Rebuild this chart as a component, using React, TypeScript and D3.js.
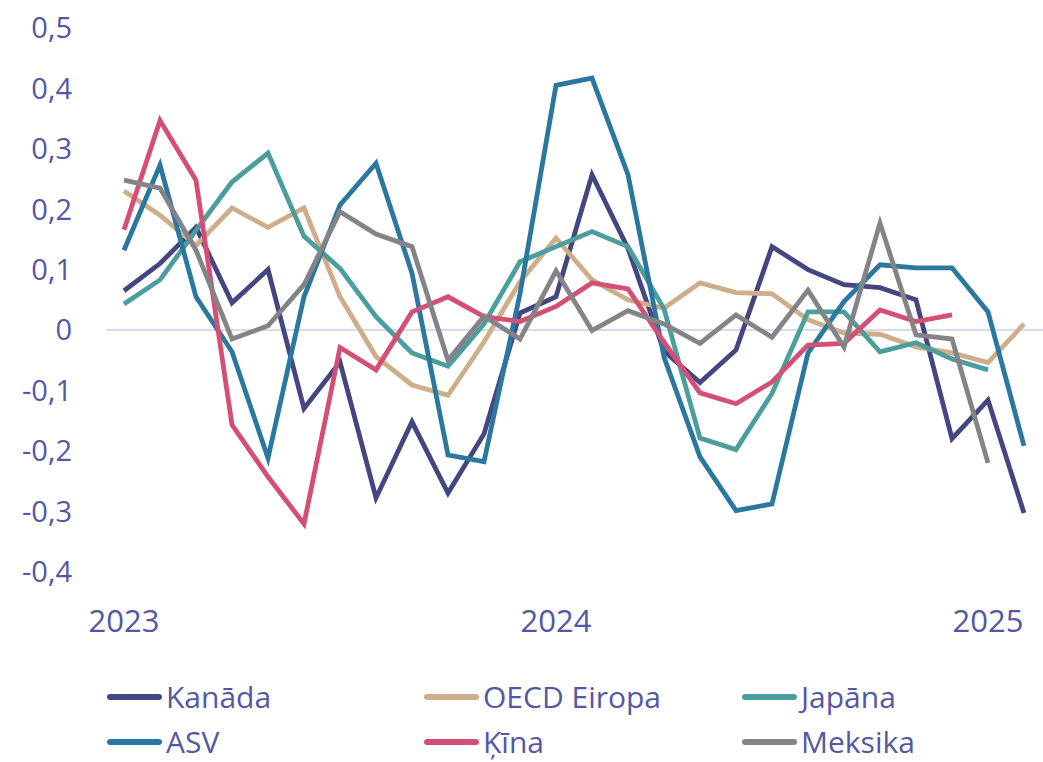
import React from "react";
import * as d3 from "d3";

// monthly points, Jan 2023 .. Feb 2025
const months: string[] = [
  "2023-01", "2023-02", "2023-03", "2023-04", "2023-05", "2023-06",
  "2023-07", "2023-08", "2023-09", "2023-10", "2023-11", "2023-12",
  "2024-01", "2024-02", "2024-03", "2024-04", "2024-05", "2024-06",
  "2024-07", "2024-08", "2024-09", "2024-10", "2024-11", "2024-12",
  "2025-01", "2025-02",
];

const kanada = [0.065, 0.11, 0.17, 0.045, 0.1, -0.13, -0.053, -0.278, -0.152, -0.27, -0.172, 0.028, 0.055, 0.257, 0.135, -0.035, -0.087, -0.033, 0.138, 0.1, 0.075, 0.07, 0.05, -0.18, -0.116, -0.303];
const oecdEiropa = [0.23, 0.19, 0.14, 0.202, 0.17, 0.202, 0.055, -0.044, -0.091, -0.108, -0.02, 0.08, 0.152, 0.083, 0.05, 0.036, 0.078, 0.062, 0.06, 0.017, -0.005, -0.007, -0.028, -0.038, -0.054, 0.01];
const japana = [0.043, 0.083, 0.165, 0.245, 0.293, 0.155, 0.102, 0.022, -0.038, -0.06, 0.01, 0.113, 0.138, 0.163, 0.138, 0.035, -0.179, -0.198, -0.105, 0.03, 0.03, -0.036, -0.021, -0.048, -0.066, null];
const asv = [0.132, 0.273, 0.055, -0.036, -0.212, 0.055, 0.207, 0.276, 0.094, -0.207, -0.218, 0.06, 0.405, 0.417, 0.257, -0.045, -0.21, -0.299, -0.288, -0.038, 0.047, 0.108, 0.103, 0.103, 0.03, -0.192];
const kina = [0.166, 0.347, 0.248, -0.157, -0.243, -0.321, -0.029, -0.066, 0.03, 0.055, 0.022, 0.014, 0.039, 0.078, 0.068, -0.02, -0.104, -0.122, -0.086, -0.025, -0.022, 0.033, 0.014, 0.025, null, null];
const meksika = [0.248, 0.235, 0.132, -0.015, 0.007, 0.075, 0.196, 0.159, 0.138, -0.05, 0.023, -0.015, 0.098, -0.001, 0.032, 0.01, -0.022, 0.025, -0.012, 0.066, -0.028, 0.177, -0.008, -0.015, -0.22, null];

const yTicks = [0.5, 0.4, 0.3, 0.2, 0.1, 0, -0.1, -0.2, -0.3, -0.4];
const xTickLabels = ["2023", "2024", "2025"];

const series = [
  { name: "Kanāda", values: kanada, color: "#434680" },
  { name: "OECD Eiropa", values: oecdEiropa, color: "#ceae88" },
  { name: "Japāna", values: japana, color: "#4a9e9b" },
  { name: "ASV", values: asv, color: "#2a78a0" },
  { name: "Ķīna", values: kina, color: "#d44f73" },
  { name: "Meksika", values: meksika, color: "#848488" },
];

const W = 1043;
const H = 762;
const textColor = "#5457a6";
const font = "'Open Sans', sans-serif";

const App: React.FC = () => {
  const x = d3.scaleLinear().domain([0, months.length - 1]).range([124, 1024]);
  const y = d3.scaleLinear().domain([-0.4, 0.5]).range([571.6, 28]);

  const line = d3.line<number | null>()
    .defined(d => d !== null)
    .x((_, i) => x(i))
    .y(d => y(d as number));

  const fmt = (v: number) => (v === 0 ? "0" : d3.format(".1f")(v).replace(".", ",").replace("−", "-"));

  // legend: 3 columns, 2 rows
  const legendCols = [107, 424, 742];
  const legendRows = [697, 742];

  return (
    <svg width={W} height={H} style={{ position: "absolute", left: 0, top: 0, background: "#fff" }} fontFamily={font}>
      {/* zero line */}
      <line x1={106} x2={1043} y1={y(0)} y2={y(0)} stroke="#d9d9ec" strokeWidth={2} />

      {/* y axis labels */}
      {yTicks.map(t => (
        <text key={t} x={72} y={y(t)} dy="0.36em" textAnchor="end" fontSize={29} fill={textColor}>
          {fmt(t)}
        </text>
      ))}

      {/* x axis labels, on January of each year */}
      {xTickLabels.map(lbl => {
        const i = months.indexOf(`${lbl}-01`);
        return (
          <text key={lbl} x={x(i)} y={632} textAnchor="middle" fontSize={31} fill={textColor}>
            {lbl}
          </text>
        );
      })}

      {/* series */}
      {series.map(s => (
        <path
          key={s.name}
          d={line(s.values) || ""}
          fill="none"
          stroke={s.color}
          strokeWidth={4.8}
          strokeLinejoin="miter"
        />
      ))}

      {/* legend */}
      {series.map((s, k) => {
        const lx = legendCols[k % 3];
        const ly = legendRows[Math.floor(k / 3)];
        return (
          <g key={s.name}>
            <line x1={lx + 3} x2={lx + 52} y1={ly} y2={ly} stroke={s.color} strokeWidth={6} strokeLinecap="round" />
            <text x={lx + 59} y={ly} dy="0.36em" fontSize={30} fill={textColor}>
              {s.name}
            </text>
          </g>
        );
      })}
    </svg>
  );
};

export default App;
